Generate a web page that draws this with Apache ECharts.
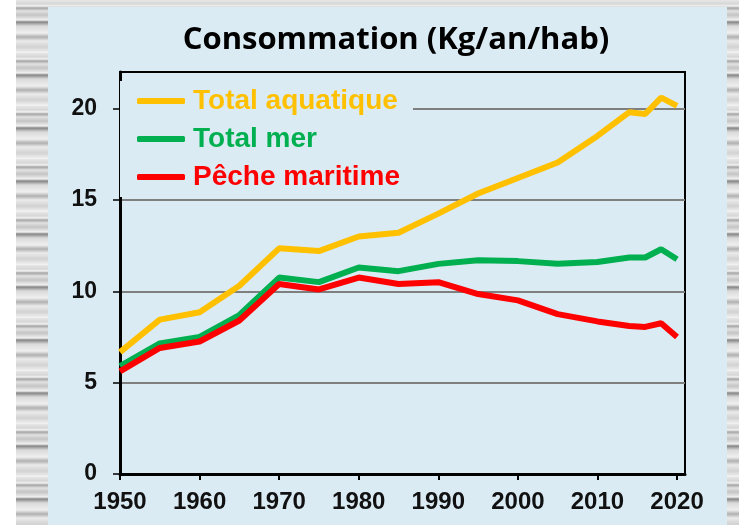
<!DOCTYPE html>
<html>
<head>
<meta charset="utf-8">
<script src="https://cdn.jsdelivr.net/npm/echarts@6/dist/echarts.min.js"></script>
<style>
  html, body { margin: 0; padding: 0; }
  body { width: 739px; height: 525px; position: relative; overflow: hidden; background: #fff; }
  #marble {
    position: absolute; left: 16px; top: 0; width: 723px; height: 525px;
    background: repeating-linear-gradient(180deg, #e6e6e6 0px, #d6d6d6 4px, #f3f3f3 6px, #a4a4a4 8px, #e2e2e2 11px,
      #c4c4c4 15px, #f1f1f1 20px, #858585 22px, #dadada 26px, #efefef 33px, #b0b0b0 37px, #ebebeb 41px, #d2d2d2 47px, #f4f4f4 53px);
  }
  #panel { position: absolute; left: 48px; top: 7px; width: 679px; height: 518px; background: #dbebf3; }
  #chart { position: absolute; left: 0; top: 0; width: 739px; height: 525px; }
</style>
</head>
<body>
<div id="marble"></div>
<div id="panel"></div>
<div id="chart"></div>
<script>
// années et consommation (kg/an/hab)
var annees = [1950, 1955, 1960, 1965, 1970, 1975, 1980, 1985, 1990, 1995, 2000, 2005, 2010, 2014, 2016, 2018, 2020];
var totalAquatique = [6.67, 8.45, 8.85, 10.3, 12.35, 12.2, 13.0, 13.2, 14.25, 15.35, 16.2, 17.05, 18.5, 19.8, 19.7, 20.6, 20.15];
var totalMer = [5.9, 7.15, 7.5, 8.7, 10.75, 10.5, 11.3, 11.1, 11.5, 11.7, 11.65, 11.5, 11.6, 11.85, 11.85, 12.3, 11.75];
var pecheMaritime = [5.62, 6.9, 7.25, 8.4, 10.4, 10.1, 10.75, 10.4, 10.5, 9.85, 9.5, 8.75, 8.35, 8.1, 8.05, 8.25, 7.5];
var yTicks = [0, 5, 10, 15, 20];
var xTicks = [1950, 1960, 1970, 1980, 1990, 2000, 2010, 2020];

function paires(vals) {
    return annees.map(function (a, i) { return [a, vals[i]]; });
}

var police = 'Liberation Sans';
function style(c) {
    return { color: c, fontFamily: police, fontWeight: 'bold', fontSize: 28, lineHeight: 30, padding: [0, 0, 0, 3] };
}

var chart = echarts.init(document.getElementById('chart'));
chart.setOption({
    backgroundColor: 'transparent',
    animation: false,
    title: {
        text: 'Consommation (Kg/an/hab)',
        left: 391, top: 20, textAlign: 'center',
        textStyle: { fontFamily: 'Open Sans', fontWeight: 'bold', fontSize: 31, color: '#000' }
    },
    legend: {
        orient: 'vertical',
        left: 120, top: 81,
        padding: [5, 13, 5, 17],
        backgroundColor: '#dbebf3',
        itemGap: 8,
        itemWidth: 48, itemHeight: 6,
        icon: 'roundRect',
        textStyle: {
            fontFamily: police, fontWeight: 'bold', fontSize: 28, lineHeight: 30,
            rich: { o: style('#ffc000'), g: style('#00b050'), r: style('#ff0000') }
        },
        data: ['Total aquatique', 'Total mer', 'Pêche maritime'],
        formatter: function (name) {
            var k = name === 'Total aquatique' ? 'o' : (name === 'Total mer' ? 'g' : 'r');
            return '{' + k + '|' + name + '}';
        }
    },
    grid: { left: 120, right: 54, top: 72, bottom: 51, show: true, borderColor: '#000', borderWidth: 2 },
    xAxis: {
        type: 'value', min: 1950, max: 2021, interval: 10,
        axisLine: { lineStyle: { color: '#000', width: 3 } },
        axisTick: { show: true, length: 6, lineStyle: { color: '#000', width: 2 }, customValues: xTicks },
        axisLabel: {
            margin: 16, color: '#111', fontFamily: police, fontWeight: 'bold', fontSize: 24, customValues: xTicks,
            formatter: function (v) { return String(v); }
        },
        splitLine: { show: false }
    },
    yAxis: {
        type: 'value', min: 0, max: 22, interval: 5,
        axisLine: { show: true, lineStyle: { color: '#000', width: 3 } },
        axisTick: { show: true, length: 7, lineStyle: { color: '#000', width: 1.5 }, customValues: yTicks },
        axisLabel: { margin: 23, color: '#111', fontFamily: police, fontWeight: 'bold', fontSize: 23, customValues: yTicks },
        splitLine: { show: true, lineStyle: { color: '#7f7f7f', width: 2 } }
    },
    series: [
        { name: 'Total aquatique', type: 'line', data: paires(totalAquatique), symbol: 'none', color: '#ffc000', lineStyle: { width: 6, color: '#ffc000' }, z: 3 },
        { name: 'Total mer', type: 'line', data: paires(totalMer), symbol: 'none', color: '#00b050', lineStyle: { width: 6, color: '#00b050' }, z: 2 },
        { name: 'Pêche maritime', type: 'line', data: paires(pecheMaritime), symbol: 'none', color: '#ff0000', lineStyle: { width: 6, color: '#ff0000' }, z: 4 }
    ]
});
</script>
</body>
</html>
